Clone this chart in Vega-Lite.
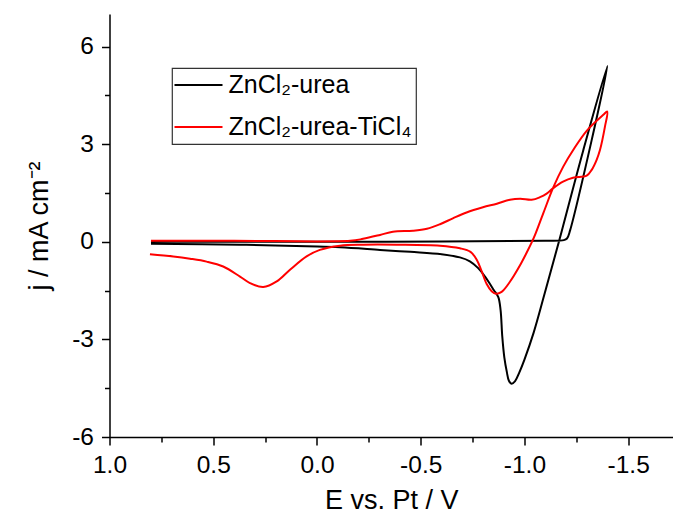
{
  "$schema": "https://vega.github.io/schema/vega-lite/v6.json",
  "width": 563.5,
  "height": 423,
  "autosize": {"type": "none"},
  "padding": {"left": 109.5, "top": 14, "right": 0, "bottom": 80},
  "background": "white",
  "config": {
    "view": {"stroke": null},
    "font": "Liberation Sans",
    "axis": {
      "domainColor": "black", "domainWidth": 1.5,
      "tickColor": "black", "tickWidth": 1.5,
      "labelColor": "black", "titleColor": "black",
      "grid": false,
      "labelFont": "Liberation Sans", "titleFont": "Liberation Sans",
      "labelFontSize": 24.5, "titleFontSize": 27, "titleFontWeight": "normal"
    },
    "legend": {"strokeWidth": 1.2}
  },
  "data": {"values": [
    {"s": "ZnCl₂-urea", "i": 1, "E": 0.80, "j": 0.00},
    {"s": "ZnCl₂-urea", "i": 2, "E": 0.40, "j": 0.00},
    {"s": "ZnCl₂-urea", "i": 3, "E": 0.00, "j": 0.00},
    {"s": "ZnCl₂-urea", "i": 4, "E": -0.60, "j": 0.01},
    {"s": "ZnCl₂-urea", "i": 5, "E": -1.10, "j": 0.03},
    {"s": "ZnCl₂-urea", "i": 6, "E": -1.19, "j": 0.05},
    {"s": "ZnCl₂-urea", "i": 7, "E": -1.205, "j": 0.10},
    {"s": "ZnCl₂-urea", "i": 8, "E": -1.22, "j": 0.35},
    {"s": "ZnCl₂-urea", "i": 9, "E": -1.40, "j": 5.40},
    {"s": "ZnCl₂-urea", "i": 10, "E": -1.283, "j": 2.80},
    {"s": "ZnCl₂-urea", "i": 11, "E": -1.166, "j": 0.00},
    {"s": "ZnCl₂-urea", "i": 12, "E": -1.098, "j": -1.575},
    {"s": "ZnCl₂-urea", "i": 13, "E": -1.044, "j": -2.80},
    {"s": "ZnCl₂-urea", "i": 14, "E": -1.000, "j": -3.62},
    {"s": "ZnCl₂-urea", "i": 15, "E": -0.975, "j": -4.02},
    {"s": "ZnCl₂-urea", "i": 16, "E": -0.955, "j": -4.28},
    {"s": "ZnCl₂-urea", "i": 17, "E": -0.938, "j": -4.36},
    {"s": "ZnCl₂-urea", "i": 18, "E": -0.925, "j": -4.27},
    {"s": "ZnCl₂-urea", "i": 19, "E": -0.915, "j": -4.00},
    {"s": "ZnCl₂-urea", "i": 20, "E": -0.903, "j": -3.55},
    {"s": "ZnCl₂-urea", "i": 21, "E": -0.893, "j": -2.90},
    {"s": "ZnCl₂-urea", "i": 22, "E": -0.885, "j": -2.10},
    {"s": "ZnCl₂-urea", "i": 23, "E": -0.874, "j": -1.70},
    {"s": "ZnCl₂-urea", "i": 24, "E": -0.852, "j": -1.48},
    {"s": "ZnCl₂-urea", "i": 25, "E": -0.834, "j": -1.30},
    {"s": "ZnCl₂-urea", "i": 26, "E": -0.810, "j": -1.07},
    {"s": "ZnCl₂-urea", "i": 27, "E": -0.777, "j": -0.81},
    {"s": "ZnCl₂-urea", "i": 28, "E": -0.737, "j": -0.60},
    {"s": "ZnCl₂-urea", "i": 29, "E": -0.689, "j": -0.48},
    {"s": "ZnCl₂-urea", "i": 30, "E": -0.60, "j": -0.38},
    {"s": "ZnCl₂-urea", "i": 31, "E": -0.45, "j": -0.31},
    {"s": "ZnCl₂-urea", "i": 32, "E": -0.304, "j": -0.25},
    {"s": "ZnCl₂-urea", "i": 33, "E": -0.111, "j": -0.17},
    {"s": "ZnCl₂-urea", "i": 34, "E": 0.05, "j": -0.14},
    {"s": "ZnCl₂-urea", "i": 35, "E": 0.371, "j": -0.09},
    {"s": "ZnCl₂-urea", "i": 36, "E": 0.80, "j": -0.06},

    {"s": "ZnCl₂-urea-TiCl₄", "i": 1, "E": 0.80, "j": 0.03},
    {"s": "ZnCl₂-urea-TiCl₄", "i": 2, "E": 0.40, "j": 0.03},
    {"s": "ZnCl₂-urea-TiCl₄", "i": 3, "E": -0.16, "j": 0.03},
    {"s": "ZnCl₂-urea-TiCl₄", "i": 4, "E": -0.222, "j": 0.09},
    {"s": "ZnCl₂-urea-TiCl₄", "i": 5, "E": -0.304, "j": 0.21},
    {"s": "ZnCl₂-urea-TiCl₄", "i": 6, "E": -0.366, "j": 0.31},
    {"s": "ZnCl₂-urea-TiCl₄", "i": 7, "E": -0.463, "j": 0.34},
    {"s": "ZnCl₂-urea-TiCl₄", "i": 8, "E": -0.530, "j": 0.40},
    {"s": "ZnCl₂-urea-TiCl₄", "i": 9, "E": -0.593, "j": 0.54},
    {"s": "ZnCl₂-urea-TiCl₄", "i": 10, "E": -0.655, "j": 0.72},
    {"s": "ZnCl₂-urea-TiCl₄", "i": 11, "E": -0.721, "j": 0.90},
    {"s": "ZnCl₂-urea-TiCl₄", "i": 12, "E": -0.800, "j": 1.06},
    {"s": "ZnCl₂-urea-TiCl₄", "i": 13, "E": -0.867, "j": 1.17},
    {"s": "ZnCl₂-urea-TiCl₄", "i": 14, "E": -0.930, "j": 1.29},
    {"s": "ZnCl₂-urea-TiCl₄", "i": 15, "E": -0.980, "j": 1.32},
    {"s": "ZnCl₂-urea-TiCl₄", "i": 16, "E": -1.035, "j": 1.29},
    {"s": "ZnCl₂-urea-TiCl₄", "i": 17, "E": -1.075, "j": 1.37},
    {"s": "ZnCl₂-urea-TiCl₄", "i": 18, "E": -1.107, "j": 1.48},
    {"s": "ZnCl₂-urea-TiCl₄", "i": 19, "E": -1.139, "j": 1.65},
    {"s": "ZnCl₂-urea-TiCl₄", "i": 20, "E": -1.186, "j": 1.85},
    {"s": "ZnCl₂-urea-TiCl₄", "i": 21, "E": -1.234, "j": 1.97},
    {"s": "ZnCl₂-urea-TiCl₄", "i": 22, "E": -1.300, "j": 2.03},
    {"s": "ZnCl₂-urea-TiCl₄", "i": 23, "E": -1.324, "j": 2.21},
    {"s": "ZnCl₂-urea-TiCl₄", "i": 24, "E": -1.348, "j": 2.52},
    {"s": "ZnCl₂-urea-TiCl₄", "i": 25, "E": -1.364, "j": 2.82},
    {"s": "ZnCl₂-urea-TiCl₄", "i": 26, "E": -1.388, "j": 3.54},
    {"s": "ZnCl₂-urea-TiCl₄", "i": 27, "E": -1.399, "j": 4.00},
    {"s": "ZnCl₂-urea-TiCl₄", "i": 28, "E": -1.380, "j": 3.90},
    {"s": "ZnCl₂-urea-TiCl₄", "i": 29, "E": -1.300, "j": 3.41},
    {"s": "ZnCl₂-urea-TiCl₄", "i": 30, "E": -1.235, "j": 2.82},
    {"s": "ZnCl₂-urea-TiCl₄", "i": 31, "E": -1.187, "j": 2.31},
    {"s": "ZnCl₂-urea-TiCl₄", "i": 32, "E": -1.139, "j": 1.67},
    {"s": "ZnCl₂-urea-TiCl₄", "i": 33, "E": -1.091, "j": 0.88},
    {"s": "ZnCl₂-urea-TiCl₄", "i": 34, "E": -1.051, "j": 0.21},
    {"s": "ZnCl₂-urea-TiCl₄", "i": 35, "E": -1.035, "j": -0.02},
    {"s": "ZnCl₂-urea-TiCl₄", "i": 36, "E": -1.011, "j": -0.33},
    {"s": "ZnCl₂-urea-TiCl₄", "i": 37, "E": -0.978, "j": -0.73},
    {"s": "ZnCl₂-urea-TiCl₄", "i": 38, "E": -0.930, "j": -1.23},
    {"s": "ZnCl₂-urea-TiCl₄", "i": 39, "E": -0.890, "j": -1.54},
    {"s": "ZnCl₂-urea-TiCl₄", "i": 40, "E": -0.863, "j": -1.60},
    {"s": "ZnCl₂-urea-TiCl₄", "i": 41, "E": -0.842, "j": -1.52},
    {"s": "ZnCl₂-urea-TiCl₄", "i": 42, "E": -0.818, "j": -1.30},
    {"s": "ZnCl₂-urea-TiCl₄", "i": 43, "E": -0.794, "j": -0.91},
    {"s": "ZnCl₂-urea-TiCl₄", "i": 44, "E": -0.770, "j": -0.55},
    {"s": "ZnCl₂-urea-TiCl₄", "i": 45, "E": -0.740, "j": -0.31},
    {"s": "ZnCl₂-urea-TiCl₄", "i": 46, "E": -0.689, "j": -0.20},
    {"s": "ZnCl₂-urea-TiCl₄", "i": 47, "E": -0.593, "j": -0.12},
    {"s": "ZnCl₂-urea-TiCl₄", "i": 48, "E": -0.384, "j": -0.09},
    {"s": "ZnCl₂-urea-TiCl₄", "i": 49, "E": -0.223, "j": -0.09},
    {"s": "ZnCl₂-urea-TiCl₄", "i": 50, "E": -0.111, "j": -0.12},
    {"s": "ZnCl₂-urea-TiCl₄", "i": 51, "E": -0.014, "j": -0.25},
    {"s": "ZnCl₂-urea-TiCl₄", "i": 52, "E": 0.050, "j": -0.45},
    {"s": "ZnCl₂-urea-TiCl₄", "i": 53, "E": 0.130, "j": -0.86},
    {"s": "ZnCl₂-urea-TiCl₄", "i": 54, "E": 0.194, "j": -1.22},
    {"s": "ZnCl₂-urea-TiCl₄", "i": 55, "E": 0.259, "j": -1.39},
    {"s": "ZnCl₂-urea-TiCl₄", "i": 56, "E": 0.323, "j": -1.27},
    {"s": "ZnCl₂-urea-TiCl₄", "i": 57, "E": 0.371, "j": -1.07},
    {"s": "ZnCl₂-urea-TiCl₄", "i": 58, "E": 0.452, "j": -0.76},
    {"s": "ZnCl₂-urea-TiCl₄", "i": 59, "E": 0.532, "j": -0.61},
    {"s": "ZnCl₂-urea-TiCl₄", "i": 60, "E": 0.612, "j": -0.52},
    {"s": "ZnCl₂-urea-TiCl₄", "i": 61, "E": 0.693, "j": -0.45},
    {"s": "ZnCl₂-urea-TiCl₄", "i": 62, "E": 0.805, "j": -0.38}
  ]},
  "mark": {"type": "line", "strokeWidth": 2, "interpolate": "catmull-rom"},
  "encoding": {
    "x": {
      "field": "E", "type": "quantitative",
      "scale": {"domain": [-1.716, 1], "reverse": true, "nice": false, "zero": false},
      "axis": {
        "title": "E vs. Pt / V",
        "values": [1, 0.75, 0.5, 0.25, 0, -0.25, -0.5, -0.75, -1, -1.25, -1.5],
        "labelExpr": "abs(datum.value*2 - round(datum.value*2)) < 0.001 ? (datum.value < 0 ? '-' + format(-datum.value, '.1f') : format(datum.value, '.1f')) : ''",
        "tickSize": {"condition": {"test": "abs(datum.value*2 - round(datum.value*2)) < 0.001", "value": 8}, "value": 5},
        "labelPadding": 8,
        "titlePadding": 11,
        "labelFlush": false,
        "labelOverlap": false
      }
    },
    "y": {
      "field": "j", "type": "quantitative",
      "scale": {"domain": [-6, 7], "nice": false, "zero": false},
      "axis": {
        "title": "j / mA cm⁻²",
        "values": [-6, -4.5, -3, -1.5, 0, 1.5, 3, 4.5, 6],
        "labelExpr": "abs(datum.value/3 - round(datum.value/3)) < 0.001 ? (datum.value < 0 ? '-' + format(-datum.value, 'd') : format(datum.value, 'd')) : ''",
        "tickSize": {"condition": {"test": "abs(datum.value/3 - round(datum.value/3)) < 0.001", "value": 8}, "value": 5},
        "labelPadding": 8,
        "titlePadding": 18,
        "labelFlush": false,
        "labelOverlap": false
      }
    },
    "color": {
      "field": "s", "type": "nominal",
      "scale": {"domain": ["ZnCl₂-urea", "ZnCl₂-urea-TiCl₄"], "range": ["#000000", "#ff0000"]},
      "legend": {
        "title": null,
        "orient": "none",
        "legendX": 62.5,
        "legendY": 54,
        "symbolType": "M-2,0H2",
        "symbolSize": 576,
        "symbolStrokeWidth": 2,
        "symbolOffset": 9.5,
        "labelFontSize": 25,
        "labelFont": "Liberation Sans",
        "labelColor": "black",
        "labelLimit": 400,
        "labelOffset": 17,
        "strokeColor": "#333333",
        "fillColor": "white",
        "padding": 4,
        "rowPadding": 16
      }
    },
    "order": {"field": "i", "type": "quantitative"}
  }
}
